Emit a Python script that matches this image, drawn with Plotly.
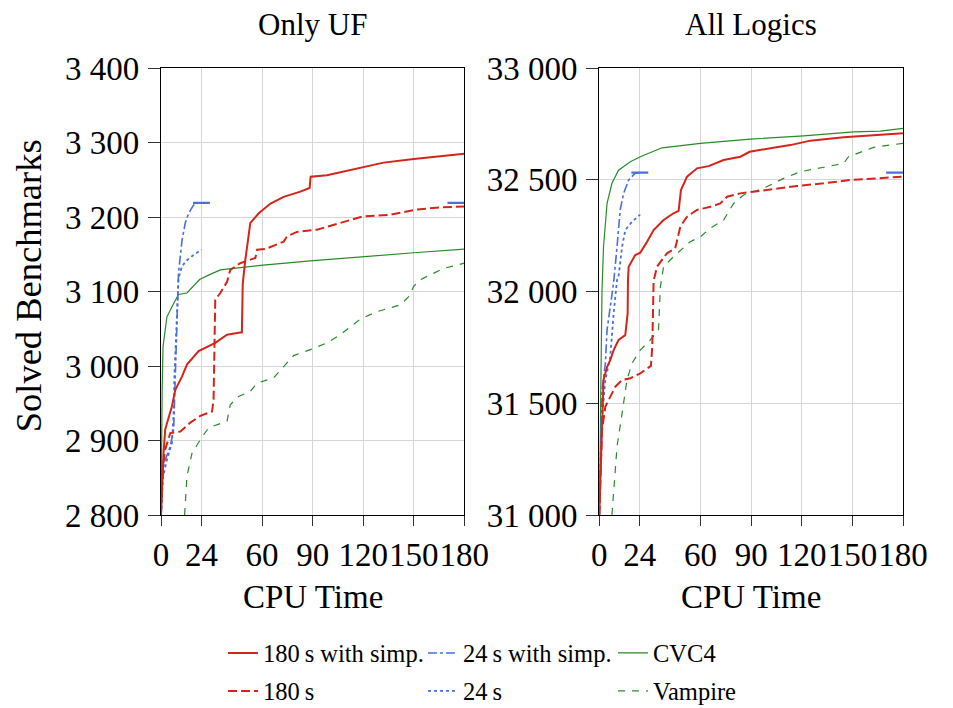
import plotly.graph_objects as go

# ---------------- data ----------------
# Only UF
uf_simp180_x = [0, 0.8, 1.5, 2.5, 6.5, 8.5, 12.5, 15.4, 22.3, 32.2, 39.2, 47, 48, 48.5, 50, 52, 53, 58, 65, 72.8, 82.7, 88.2, 88.8, 98.5, 112.3, 122.3, 132.1, 150, 165.8, 180]
uf_simp180_y = [2800, 2860, 2883, 2915, 2946, 2968, 2986, 3002, 3020, 3031, 3042, 3045, 3045, 3110, 3142, 3175, 3192, 3205, 3218, 3227, 3234, 3239, 3254, 3256, 3263, 3268, 3273, 3278, 3282, 3285]
uf_180_x = [0, 0.8, 2.5, 5.5, 11.5, 17.4, 23.3, 30.3, 31.2, 31.6, 32.2, 35.2, 39.2, 41.1, 47, 56, 57, 62, 68.8, 72.8, 74.8, 80.7, 92.6, 106.4, 120.2, 136, 152, 165.8, 180]
uf_180_y = [2800, 2860, 2888, 2910, 2912, 2924, 2933, 2939, 2955, 3020, 3089, 3098, 3113, 3129, 3138, 3145, 3156, 3157, 3163, 3167, 3174, 3180, 3183, 3192, 3201, 3203, 3210, 3213, 3214]
uf_simp24_x = [0, 0.7, 1.5, 2.5, 5.5, 7.5, 8.5, 9.5, 10.4, 12.5, 14.4, 16.4, 19.3, 22.3, 24]
uf_simp24_y = [2800, 2840, 2865, 2874, 2892, 2915, 2982, 3071, 3125, 3169, 3192, 3205, 3216, 3219, 3219]
uf_24_x = [0, 0.9, 3.5, 6.5, 7.5, 7.9, 9.1, 10.4, 12.5, 15.4, 19.3, 23.3, 24]
uf_24_y = [2800, 2848, 2874, 2897, 2937, 2982, 3049, 3118, 3134, 3142, 3149, 3155, 3156]
uf_cvc4_x = [0, 0.3, 0.7, 1.2, 3.5, 7.5, 10.4, 15.4, 19.3, 22.9, 28.2, 35.2, 43.1, 59, 88.6, 120.2, 150, 180]
uf_cvc4_y = [2800, 2900, 2970, 3026, 3066, 3084, 3096, 3098, 3107, 3116, 3122, 3129, 3131, 3135, 3141, 3147, 3152, 3157]
uf_vamp_x = [14, 15.4, 18.4, 23.3, 28.2, 39.2, 41.1, 46, 53, 57, 66.8, 72.8, 78.7, 88.6, 98.5, 106.4, 112.3, 118.3, 128.2, 142, 147, 150, 154, 161.8, 167.7, 180]
uf_vamp_y = [2800, 2852, 2883, 2901, 2917, 2926, 2948, 2959, 2966, 2977, 2984, 2999, 3014, 3022, 3031, 3042, 3053, 3063, 3073, 3082, 3093, 3107, 3116, 3125, 3131, 3138]
uf_mark_y = 3219

# All Logics
all_simp180_x = [0, 1.6, 2.5, 4.6, 6.5, 8.5, 11.4, 15.4, 16.8, 17.0, 17.4, 21.3, 24.3, 28.3, 32.2, 38.1, 44, 47, 48.4, 52, 57.9, 64.8, 73.7, 83.6, 89.1, 101.4, 113.2, 125.1, 144.8, 164.6, 180]
all_simp180_y = [31000, 31455, 31604, 31663, 31693, 31738, 31783, 31805, 31902, 32051, 32111, 32163, 32174, 32223, 32275, 32320, 32350, 32361, 32454, 32514, 32551, 32561, 32588, 32603, 32625, 32641, 32655, 32675, 32690, 32700, 32708]
all_180_x = [0, 1.6, 3.6, 6.5, 9.5, 13.5, 18.4, 24.3, 30.6, 31.4, 32.2, 32.8, 34.2, 40.1, 45, 48, 52, 57.9, 65.8, 71.7, 75.7, 83.6, 103.3, 117.2, 133, 148.8, 164.6, 180]
all_180_y = [31000, 31380, 31485, 31529, 31574, 31604, 31612, 31634, 31667, 31753, 32051, 32066, 32111, 32171, 32193, 32290, 32335, 32365, 32379, 32394, 32424, 32439, 32459, 32472, 32484, 32499, 32506, 32514]
all_simp24_x = [0, 0.8, 1.6, 3.6, 4.6, 6.5, 8.5, 10.5, 12.4, 14.4, 17.4, 21.3, 24]
all_simp24_y = [31000, 31350, 31559, 31679, 31828, 31932, 32040, 32200, 32365, 32439, 32499, 32529, 32532]
all_24_x = [0, 1.2, 3.6, 6.5, 8.5, 10.5, 11.4, 13.5, 15.4, 19.4, 23.9, 24]
all_24_y = [31000, 31400, 31604, 31708, 31902, 32051, 32066, 32200, 32275, 32312, 32342, 32345]
all_cvc4_x = [0, 0.5, 1.0, 1.6, 2.5, 4.6, 7.5, 11.4, 18.4, 24.3, 37.2, 42.1, 59.9, 89.5, 121.1, 150.7, 166.6, 180]
all_cvc4_y = [31000, 31400, 31750, 32007, 32200, 32394, 32484, 32543, 32581, 32603, 32643, 32648, 32663, 32682, 32696, 32714, 32718, 32730]
all_vamp_x = [7.5, 10.5, 13.5, 16.4, 19.4, 24.3, 30.2, 35.1, 36.2, 38.1, 44, 53.9, 59.9, 65.8, 73.7, 79.6, 85.5, 97.4, 109.2, 119.1, 133, 144.8, 147.7, 152.7, 162.6, 180]
all_vamp_y = [31000, 31306, 31455, 31604, 31679, 31738, 31783, 31828, 32021, 32111, 32156, 32223, 32245, 32283, 32320, 32394, 32432, 32462, 32506, 32536, 32556, 32573, 32603, 32618, 32645, 32663]
all_mark_y = 32532

# level marks of "24 s with simp." (at 24 s and at the right edge)
mark_x = [19, 29, None, 170, 180]

x_ticks = [0, 24, 60, 90, 120, 150, 180]
x_ticktext = ["0", "24", "60", "90", "120", "150", "180"]
uf_ticks = [2800, 2900, 3000, 3100, 3200, 3300, 3400]
uf_ticktext = ["2 800", "2 900", "3 000", "3 100", "3 200", "3 300", "3 400"]
all_ticks = [31000, 31500, 32000, 32500, 33000]
all_ticktext = ["31 000", "31 500", "32 000", "32 500", "33 000"]

titles = ["Only UF", "All Logics"]
x_title = "CPU Time"
y_title = "Solved Benchmarks"
names = ["180\u2009s with simp.", "24\u2009s with simp.", "CVC4", "180\u2009s", "24\u2009s", "Vampire"]

# ---------------- style ----------------
RED = "#d5241a"
BLUE = "#4a6fdc"
GREEN = "#2a8a2a"
FONT = "Liberation Serif"
OFF = 8                      # page body margin of the browser
W, H = 953 - OFF, 708 - OFF  # figure size so that it ends at the window edge


def s2f(p):
    """screen pixel -> figure pixel"""
    return p - OFF


ML, MT = s2f(160.7), s2f(68)
MR = W - s2f(902.7)
MB = H - s2f(515)
PW, PH = W - ML - MR, H - MT - MB


def px_x(px):
    return (s2f(px) - ML) / PW


def px_y(py):
    return (H - MB - s2f(py)) / PH


styles = [
    dict(color=RED, width=2, dash="solid"),
    dict(color=BLUE, width=1.6, dash="dashdot"),
    dict(color=GREEN, width=1.2, dash="solid"),
    dict(color=RED, width=2, dash="9px,4px"),
    dict(color=BLUE, width=1.8, dash="dot"),
    dict(color=GREEN, width=1.2, dash="7px,7px"),
]

panels = [
    ("x", "y", [uf_simp180_x, uf_simp24_x, uf_cvc4_x, uf_180_x, uf_24_x, uf_vamp_x],
     [uf_simp180_y, uf_simp24_y, uf_cvc4_y, uf_180_y, uf_24_y, uf_vamp_y], uf_mark_y),
    ("x2", "y2", [all_simp180_x, all_simp24_x, all_cvc4_x, all_180_x, all_24_x, all_vamp_x],
     [all_simp180_y, all_simp24_y, all_cvc4_y, all_180_y, all_24_y, all_vamp_y], all_mark_y),
]

fig = go.Figure()
draw_order = [5, 2, 4, 1, 3, 0]
for pi, (xa, ya, xs, ys, mark_y) in enumerate(panels):
    fig.add_trace(go.Scatter(x=mark_x, y=[mark_y, mark_y, None, mark_y, mark_y],
                             mode="lines", line=dict(color=BLUE, width=2.2),
                             xaxis=xa, yaxis=ya, showlegend=False, hoverinfo="skip"))
    for i in draw_order:
        fig.add_trace(go.Scatter(x=xs[i], y=ys[i], mode="lines", name=names[i],
                                 line=styles[i], xaxis=xa, yaxis=ya,
                                 legendgroup=names[i], showlegend=False))

# legend: one small legend per cell (3 columns x 2 rows)
col_px = [228, 428, 618]   # screen x where the line sample starts
row_py = [653, 691]        # screen y of the text centre
legend_layouts = {}
for i in range(6):
    key = "legend" if i == 0 else f"legend{i + 1}"
    fig.add_trace(go.Scatter(x=[None], y=[None], mode="lines", name=names[i],
                             line=styles[i], xaxis="x", yaxis="y",
                             legendgroup=names[i], showlegend=True, legend=key))
    legend_layouts[key] = dict(
        xref="container", yref="container",
        x=(s2f(col_px[i % 3]) - 5) / W, xanchor="left",
        y=1 - s2f(row_py[i // 3]) / H, yanchor="middle",
        font=dict(family=FONT, size=24.5, color="black"),
        bgcolor="rgba(0,0,0,0)", borderwidth=0, itemwidth=30,
    )

axis_common = dict(showline=True, linecolor="black", linewidth=1.3, mirror=True,
                   showgrid=True, gridcolor="#d6d6d6", gridwidth=1.3,
                   ticks="outside", tickcolor="#333", tickwidth=1.2,
                   zeroline=False, tickfont=dict(family=FONT, size=33, color="black"))

fig.update_layout(
    width=W, height=H,
    margin=dict(l=ML, r=MR, t=MT, b=MB, autoexpand=False),
    paper_bgcolor="white", plot_bgcolor="white",
    font=dict(family=FONT, size=32, color="black"),
    xaxis=dict(domain=[0, px_x(464)], range=[0, 180], tickvals=x_ticks, ticktext=x_ticktext,
               anchor="y", ticklen=10, tickangle=0, **axis_common),
    yaxis=dict(domain=[0, 1], range=[2800, 3400], tickvals=uf_ticks, ticktext=uf_ticktext,
               anchor="x", ticklen=12, ticklabelstandoff=2, **axis_common),
    xaxis2=dict(domain=[px_x(599), 1], range=[0, 180], tickvals=x_ticks, ticktext=x_ticktext,
                anchor="y2", ticklen=10, tickangle=0, **axis_common),
    yaxis2=dict(domain=[0, 1], range=[31000, 33000], tickvals=all_ticks, ticktext=all_ticktext,
                anchor="x2", ticklen=12, ticklabelstandoff=2, **axis_common),
    showlegend=True,
    annotations=[
        dict(text=titles[0], x=px_x(312.3), y=px_y(24), xref="paper", yref="paper",
             showarrow=False, font=dict(family=FONT, size=31), xanchor="center", yanchor="middle"),
        dict(text=titles[1], x=px_x(750.8), y=px_y(24), xref="paper", yref="paper",
             showarrow=False, font=dict(family=FONT, size=31), xanchor="center", yanchor="middle"),
        dict(text=x_title, x=px_x(312.3), y=px_y(597), xref="paper", yref="paper",
             showarrow=False, font=dict(family=FONT, size=33), xanchor="center", yanchor="middle"),
        dict(text=x_title, x=px_x(750.8), y=px_y(597), xref="paper", yref="paper",
             showarrow=False, font=dict(family=FONT, size=33), xanchor="center", yanchor="middle"),
        dict(text=y_title, x=px_x(28), y=px_y(286), xref="paper", yref="paper",
             showarrow=False, font=dict(family=FONT, size=36.5), textangle=-90,
             xanchor="center", yanchor="middle"),
    ],
    **legend_layouts,
)

fig.write_html("out.html")
